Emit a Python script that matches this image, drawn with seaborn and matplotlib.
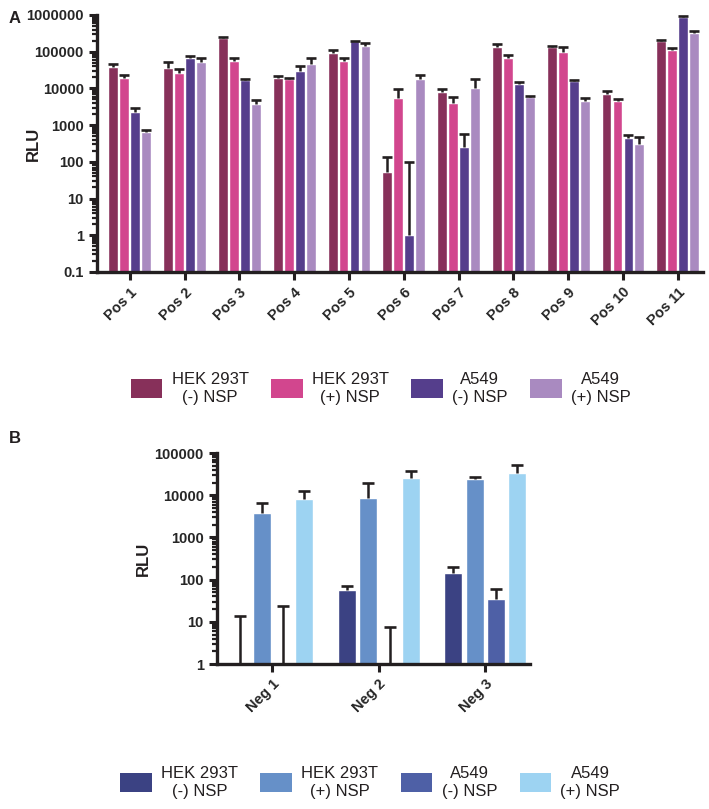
import numpy as np
import pandas as pd
import seaborn as sns
import matplotlib.pyplot as plt
from matplotlib.patches import Patch
from matplotlib.ticker import LogLocator, NullFormatter

# ---- data (means and upper SD) ----
positions = ['Pos 1', 'Pos 2', 'Pos 3', 'Pos 4', 'Pos 5', 'Pos 6',
             'Pos 7', 'Pos 8', 'Pos 9', 'Pos 10', 'Pos 11']
negatives = ['Neg 1', 'Neg 2', 'Neg 3']
groups = ['HEK 293T\n(-) NSP', 'HEK 293T\n(+) NSP', 'A549\n(-) NSP', 'A549\n(+) NSP']

hek_minus_pos = [38000, 36000, 237000, 19000, 93000, 54, 8000, 135000, 135000, 7100, 196000]
hek_minus_pos_sd = [9000, 17000, 10000, 2500, 19000, 84, 1800, 25000, 12000, 1500, 8000]
hek_plus_pos = [19500, 26500, 56000, 17500, 56000, 5500, 4000, 68000, 98000, 4600, 112000]
hek_plus_pos_sd = [4000, 7500, 12000, 1500, 10000, 4300, 1900, 14000, 37000, 600, 15000]
a549_minus_pos = [2300, 68000, 17000, 30000, 196000, 1.0, 260, 13400, 16000, 460, 880000]
a549_minus_pos_sd = [650, 9000, 1000, 11000, 5000, 99, 320, 1600, 1000, 80, 60000]
a549_plus_pos = [660, 53000, 3800, 47000, 144000, 18000, 10500, 5900, 4400, 315, 325000]
a549_plus_pos_sd = [80, 15000, 1100, 21000, 31000, 5500, 7500, 300, 1200, 165, 45000]

# values below 1 do not show on the axis (only the error bar does)
hek_minus_neg = [0.5, 57, 144]
hek_minus_neg_sd = [13.5, 13, 56]
hek_plus_neg = [3800, 8600, 24000]
hek_plus_neg_sd = [2700, 10900, 3000]
a549_minus_neg = [0.5, 0.5, 35]
a549_minus_neg_sd = [23.5, 7.1, 25]
a549_plus_neg = [8200, 26000, 34000]
a549_plus_neg_sd = [4400, 11000, 18000]

pos_colors = ['#87305A', '#D2468E', '#553E8C', '#A98AC0']
neg_colors = ['#3B4283', '#6690C8', '#4E60A6', '#9DD3F2']

sns.set_style('ticks')
plt.rcParams['font.family'] = ['Liberation Sans', 'DejaVu Sans']
INK = '#231F20'


def long_table(samples, means, sds):
    return pd.DataFrame({
        'Sample': samples * len(groups),
        'Group': np.repeat(groups, len(samples)),
        'RLU': np.concatenate(means),
        'SD': np.concatenate(sds),
    })


def draw_panel(ax, df, colors, gap, cap):
    ax.set_yscale('log', nonpositive='clip')
    sns.barplot(data=df, x='Sample', y='RLU', hue='Group', hue_order=groups,
                palette=colors, saturation=1, errorbar=None, gap=gap,
                width=0.8, legend=False, ax=ax)
    ax.set_yscale('log', nonpositive='clip')
    # one-sided error bars (mean + SD), cap only on top
    for container, grp in zip(ax.containers, groups):
        sds = df.loc[df['Group'] == grp, 'SD'].to_numpy()
        for bar, sd in zip(container, sds):
            x = bar.get_x() + bar.get_width() / 2
            h = bar.get_y() + bar.get_height()
            ax.errorbar(x, h, yerr=[[0], [sd]], fmt='none', ecolor=INK,
                        elinewidth=1.8, capsize=0, zorder=3)
            ax.plot(x, h + sd, marker='_', ms=cap, mew=1.9, color=INK, zorder=3)
    for side in ['top', 'right']:
        ax.spines[side].set_visible(False)
    for side in ['left', 'bottom']:
        ax.spines[side].set_linewidth(2.4)
        ax.spines[side].set_color(INK)
    ax.yaxis.set_minor_locator(LogLocator(base=10, subs=np.arange(2, 10), numticks=100))
    ax.yaxis.set_minor_formatter(NullFormatter())
    ax.tick_params(axis='both', which='major', length=6, width=2.2, color=INK,
                   labelsize=10.5)
    ax.tick_params(axis='y', which='minor', length=3.5, width=1.6, color=INK)
    ax.set_xlabel('')
    ax.set_ylabel('RLU', fontsize=12, fontweight='bold', color=INK)
    ax.set_xticks(range(df['Sample'].nunique()))
    ax.set_xticklabels(df['Sample'].unique(), rotation=45, ha='right',
                       rotation_mode='anchor', fontweight='bold', fontsize=10.5)


fig = plt.figure(figsize=(7.09, 8.09), dpi=100)

# Panel A
axA = fig.add_axes([0.1368, 0.6638, 0.8547, 0.3177])
dfA = long_table(positions,
                 [hek_minus_pos, hek_plus_pos, a549_minus_pos, a549_plus_pos],
                 [hek_minus_pos_sd, hek_plus_pos_sd, a549_minus_pos_sd, a549_plus_pos_sd])
draw_panel(axA, dfA, pos_colors, gap=0.1, cap=6.5)
axA.set_ylim(0.1, 1e6)
axA.set_xlim(-0.6, 10.46)
axA.set_yticks([0.1, 1, 10, 100, 1000, 10000, 100000, 1000000])
axA.set_yticklabels(['0.1', '1', '10', '100', '1000', '10000', '100000', '1000000'],
                    fontweight='bold')
axA.yaxis.set_label_coords(-0.093, 0.5)

# Panel B
axB = fig.add_axes([0.3061, 0.1792, 0.4415, 0.2608])
dfB = long_table(negatives,
                 [hek_minus_neg, hek_plus_neg, a549_minus_neg, a549_plus_neg],
                 [hek_minus_neg_sd, hek_plus_neg_sd, a549_minus_neg_sd, a549_plus_neg_sd])
draw_panel(axB, dfB, neg_colors, gap=0.15, cap=8)
axB.set_ylim(1, 1e5)
axB.set_xlim(-0.52, 2.42)
axB.set_yticks([1, 10, 100, 1000, 10000, 100000])
axB.set_yticklabels(['1', '10', '100', '1000', '10000', '100000'], fontweight='bold')
axB.yaxis.set_label_coords(-0.21, 0.5)

# legends
for colors, center in [(pos_colors, (0.537, 0.52)), (neg_colors, (0.522, 0.033))]:
    handles = [Patch(facecolor=c, edgecolor='none') for c in colors]
    leg = fig.legend(handles, groups, ncol=4, loc='center', bbox_to_anchor=center,
                     frameon=False, fontsize=12, handlelength=1.9, handleheight=1.4,
                     handletextpad=0.55, columnspacing=1.35)
    for t in leg.get_texts():
        t.set_multialignment('center')
        t.set_color(INK)

fig.text(0.012, 0.972, 'A', fontsize=12, fontweight='bold', color=INK)
fig.text(0.012, 0.452, 'B', fontsize=12, fontweight='bold', color=INK)

fig.savefig('out.png', dpi=100)
